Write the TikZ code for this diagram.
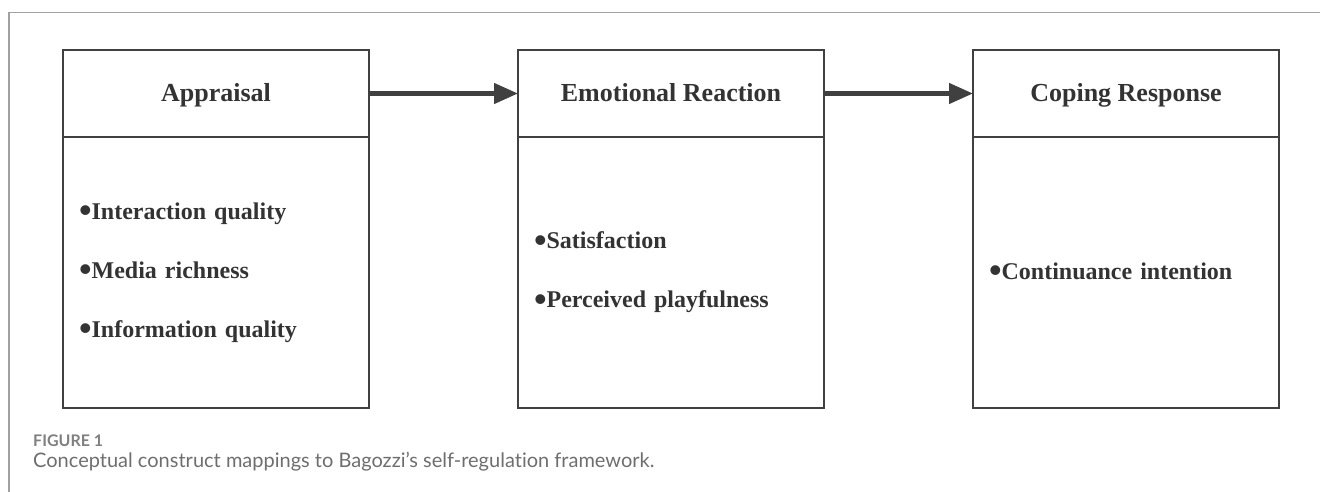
\documentclass[tikz,border=0pt]{standalone}
\usepackage{fontspec}
\setmainfont{Liberation Serif}
\newfontfamily\capfont[Ligatures=NoCommon]{Lato}
\usetikzlibrary{arrows.meta,positioning}
\definecolor{boxline}{HTML}{404040}
\definecolor{boxtext}{HTML}{333333}
\definecolor{framegray}{HTML}{A0A0A0}
\definecolor{capgray}{HTML}{6E6E6E}
% one stage of the framework: title box with the item box under it
\newcommand{\stage}[4]{%
  \node[headbox,#2] (#1) {#3};
  \node[bodybox,below=0pt of #1] (#1items) {#4};
}
% big round bullet in front of an item
\newcommand{\itm}{\raisebox{-3.5pt}{\scalebox{1.5}{\textbullet}}}

\begin{document}
\begin{tikzpicture}[x=1pt,y=1pt,
  headbox/.style={draw=boxline,line width=2pt,outer sep=0pt,
    minimum width=306pt,minimum height=87pt,text=boxtext,
    text height=20pt,text depth=4pt,
    font=\bfseries\fontsize{26}{30}\selectfont},
  bodybox/.style={draw=boxline,line width=2pt,outer sep=0pt,
    minimum width=306pt,minimum height=271pt,text width=274pt,
    inner xsep=16pt,align=left,text=boxtext,
    font=\bfseries\fontsize{24}{59}\selectfont},
  flow/.style={draw=boxline,line width=4.5pt,
    -{Triangle[length=24pt,width=20pt]}},
  captext/.style={anchor=base west,inner sep=0pt}]
  \useasboundingbox (0,0) rectangle (1320,-492);
  \draw[framegray,line width=1.5pt] (9,-492) -- (9,-12.5) -- (1320,-12.5);
  \stage{appr}{at={(216,-93.5)}}{Appraisal}
    {\itm Interaction quality\\\itm Media richness\\\itm Information quality}
  \stage{emo}{right=149pt of appr}{Emotional Reaction}
    {\itm Satisfaction\\\itm Perceived playfulness}
  \stage{cope}{right=149pt of emo}{Coping Response}
    {\itm Continuance intention}
  \draw[flow] (appr.east) -- (emo.west);
  \draw[flow] (emo.east) -- (cope.west);
  \node[captext,text=gray,font=\capfont\bfseries\fontsize{16}{18}\selectfont] (fignum)
    at (33,-446) {FIGURE 1};
  \node[captext,text=capgray,font=\capfont\fontsize{20}{22}\selectfont] (figcap)
    at (33,-467) {Conceptual construct mappings to Bagozzi’s self-regulation framework.};
\end{tikzpicture}
\end{document}
